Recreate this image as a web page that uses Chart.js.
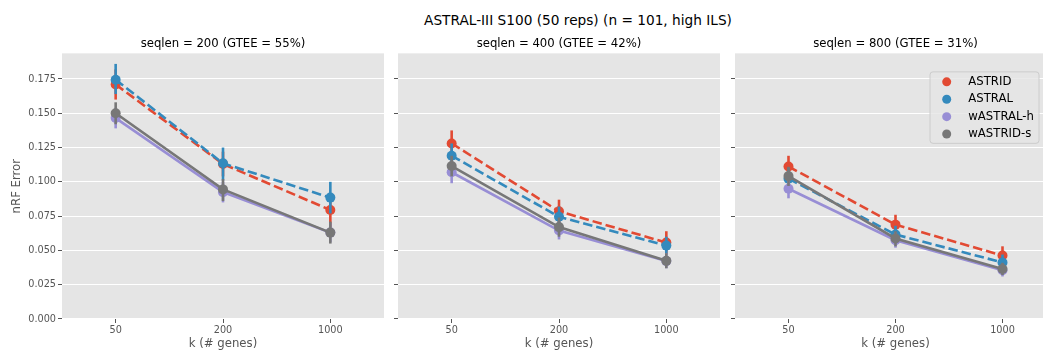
<!DOCTYPE html>
<html>
<head>
<meta charset="utf-8">
<script src="https://cdn.jsdelivr.net/npm/chart.js@4"></script>
<style>
  body { margin: 0; background: #fff; width: 1043px; height: 351px; overflow: hidden; position: relative; font-family: "DejaVu Sans", sans-serif; }
  #title { position: absolute; left: 378px; width: 400px; top: 12px; text-align: center; font-size: 13.7px; color: #000; }
  canvas { position: absolute; top: 0; }
</style>
</head>
<body>
<div id="title">ASTRAL-III S100 (50 reps) (n = 101, high ILS)</div>
<canvas id="p0"></canvas>
<canvas id="p1"></canvas>
<canvas id="p2"></canvas>
<script>
const kLabels = ['50', '200', '1000'];
const panelTitles = ['seqlen = 200 (GTEE = 55%)', 'seqlen = 400 (GTEE = 42%)', 'seqlen = 800 (GTEE = 31%)'];
const methods = ['ASTRID', 'ASTRAL', 'wASTRAL-h', 'wASTRID-s'];
const colors = ['#E24A33', '#348ABD', '#988ED5', '#777777'];

// one row per panel (seqlen 200, 400, 800), one value per k
const astridMean = [[0.171, 0.113, 0.0795], [0.128, 0.0785, 0.0557], [0.1112, 0.0688, 0.0463]];
const astridLow = [[0.160, 0.104, 0.067], [0.118, 0.070, 0.048], [0.103, 0.062, 0.040]];
const astridHigh = [[0.182, 0.122, 0.091], [0.1375, 0.087, 0.064], [0.119, 0.076, 0.053]];

const astralMean = [[0.1745, 0.1135, 0.0885], [0.119, 0.0745, 0.0535], [0.1023, 0.0616, 0.0412]];
const astralLow = [[0.164, 0.101, 0.077], [0.110, 0.067, 0.047], [0.095, 0.055, 0.036]];
const astralHigh = [[0.186, 0.125, 0.100], [0.128, 0.082, 0.060], [0.110, 0.068, 0.047]];

const wastralMean = [[0.1465, 0.0925, 0.0630], [0.107, 0.0645, 0.0422], [0.095, 0.0574, 0.0356]];
const wastralLow = [[0.139, 0.085, 0.056], [0.099, 0.058, 0.037], [0.088, 0.052, 0.031]];
const wastralHigh = [[0.154, 0.100, 0.070], [0.115, 0.071, 0.048], [0.102, 0.063, 0.040]];

const wastridMean = [[0.150, 0.0945, 0.0630], [0.1115, 0.067, 0.0424], [0.1042, 0.0587, 0.0364]];
const wastridLow = [[0.142, 0.086, 0.055], [0.104, 0.060, 0.037], [0.097, 0.053, 0.032]];
const wastridHigh = [[0.158, 0.102, 0.071], [0.119, 0.074, 0.048], [0.111, 0.064, 0.041]];

const means = [astridMean, astralMean, wastralMean, wastridMean];
const lows = [astridLow, astralLow, wastralLow, wastridLow];
const highs = [astridHigh, astralHigh, wastralHigh, wastridHigh];
const dashed = [true, true, false, false];

const FONT = 'DejaVu Sans';
const MEDIUM = 11.7;
const SMALL = 9.7;
const PAD_RIGHT = 10;

// canvas placement of the three panels (the third runs past the window edge, as in the original)
const panelBoxes = [
  { left: 0, plotWidth: 322, axisWidth: 62 },
  { left: 388, plotWidth: 322, axisWidth: 10 },
  { left: 725, plotWidth: 321, axisWidth: 10 },
];

const panelBackground = {
  id: 'panelBackground',
  beforeDraw(chart) {
    const { ctx, chartArea } = chart;
    ctx.save();
    ctx.fillStyle = '#E5E5E5';
    ctx.fillRect(chartArea.left, chartArea.top, chartArea.right - chartArea.left, chartArea.bottom - chartArea.top);
    ctx.restore();
  },
};

const errorBars = {
  id: 'errorBars',
  beforeDatasetDraw(chart, args) {
    const ds = chart.data.datasets[args.index];
    const yScale = chart.scales.y;
    const ctx = chart.ctx;
    ctx.save();
    ctx.strokeStyle = ds.borderColor;
    ctx.lineWidth = 2.6;
    args.meta.data.forEach((pt, i) => {
      ctx.beginPath();
      ctx.moveTo(pt.x, yScale.getPixelForValue(ds.errLow[i]));
      ctx.lineTo(pt.x, yScale.getPixelForValue(ds.errHigh[i]));
      ctx.stroke();
    });
    ctx.restore();
  },
};

const boxLegend = {
  id: 'boxLegend',
  afterDraw(chart, args, opts) {
    if (!opts.show) return;
    const { ctx, chartArea } = chart;
    const right = chartArea.right - 17;
    const left = right - 109;
    const top = chartArea.top + 18.5;
    const bottom = top + 71.5;
    ctx.save();
    ctx.beginPath();
    ctx.roundRect(left, top, right - left, bottom - top, 3);
    ctx.fillStyle = 'rgba(229,229,229,0.8)';
    ctx.fill();
    ctx.strokeStyle = '#CCCCCC';
    ctx.lineWidth = 1;
    ctx.stroke();
    ctx.font = MEDIUM + 'px "' + FONT + '"';
    ctx.textBaseline = 'middle';
    methods.forEach((m, i) => {
      const y = top + 10 + i * 17.4;
      ctx.beginPath();
      ctx.arc(left + 16.7, y, 4.5, 0, Math.PI * 2);
      ctx.fillStyle = colors[i];
      ctx.fill();
      ctx.fillStyle = '#000';
      ctx.fillText(m, left + 38.3, y);
    });
    ctx.restore();
  },
};

function buildDatasets(p) {
  return methods.map((m, j) => ({
    label: m,
    data: means[j][p].map((v, i) => ({ x: i, y: v })),
    errLow: lows[j][p],
    errHigh: highs[j][p],
    borderColor: colors[j],
    backgroundColor: colors[j],
    borderWidth: 2.6,
    borderDash: dashed[j] ? [9.5, 4] : [],
    pointRadius: 5,
    pointBorderWidth: 0,
    pointBackgroundColor: colors[j],
    tension: 0,
    order: methods.length - 1 - j,
  }));
}

function makePanel(p) {
  const box = panelBoxes[p];
  const width = box.plotWidth + box.axisWidth + PAD_RIGHT;
  const canvas = document.getElementById('p' + p);
  canvas.style.left = box.left + 'px';
  canvas.width = width;
  canvas.height = 351;
  canvas.style.width = width + 'px';
  canvas.style.height = '351px';

  return new Chart(canvas, {
    type: 'line',
    data: { datasets: buildDatasets(p) },
    plugins: [panelBackground, errorBars, boxLegend],
    options: {
      responsive: false,
      animation: false,
      layout: { padding: { left: 0, right: PAD_RIGHT, top: 0, bottom: 0 } },
      plugins: {
        legend: { display: false },
        tooltip: { enabled: false },
        title: {
          display: true,
          fullSize: false,
          text: panelTitles[p],
          color: '#000',
          font: { family: FONT, size: MEDIUM, weight: 'normal' },
          padding: { top: 37.3, bottom: 2 },
        },
        boxLegend: { show: p === 2 },
      },
      scales: {
        x: {
          type: 'linear',
          min: -0.5,
          max: 2.5,
          afterBuildTicks: (axis) => { axis.ticks = kLabels.map((_, i) => ({ value: i })); },
          afterFit: (axis) => { axis.height = 32; },
          ticks: {
            callback: (v) => kLabels[v],
            color: '#555555',
            font: { family: FONT, size: SMALL },
            padding: 2,
            maxRotation: 0,
          },
          grid: { drawOnChartArea: false, drawTicks: true, tickLength: 4, tickColor: '#555555', tickWidth: 1 },
          border: { display: false },
          title: {
            display: true,
            text: 'k (# genes)',
            color: '#555555',
            font: { family: FONT, size: MEDIUM },
            padding: { top: 0, bottom: 0 },
          },
        },
        y: {
          min: 0,
          max: 0.1937,
          afterFit: (axis) => { axis.width = box.axisWidth; },
          ticks: {
            stepSize: 0.025,
            includeBounds: false,
            callback: (v) => (p === 0 ? v.toFixed(3) : ''),
            color: '#555555',
            font: { family: FONT, size: SMALL },
            padding: 2,
          },
          grid: { color: '#FFFFFF', lineWidth: 1, drawTicks: true, tickLength: 4, tickColor: '#555555', tickWidth: 1 },
          border: { display: false },
          title: {
            display: p === 0,
            text: 'nRF Error',
            color: '#555555',
            font: { family: FONT, size: MEDIUM },
            padding: { top: 10, bottom: 0 },
          },
        },
      },
    },
  });
}

const charts = [0, 1, 2].map(makePanel);
</script>
</body>
</html>
